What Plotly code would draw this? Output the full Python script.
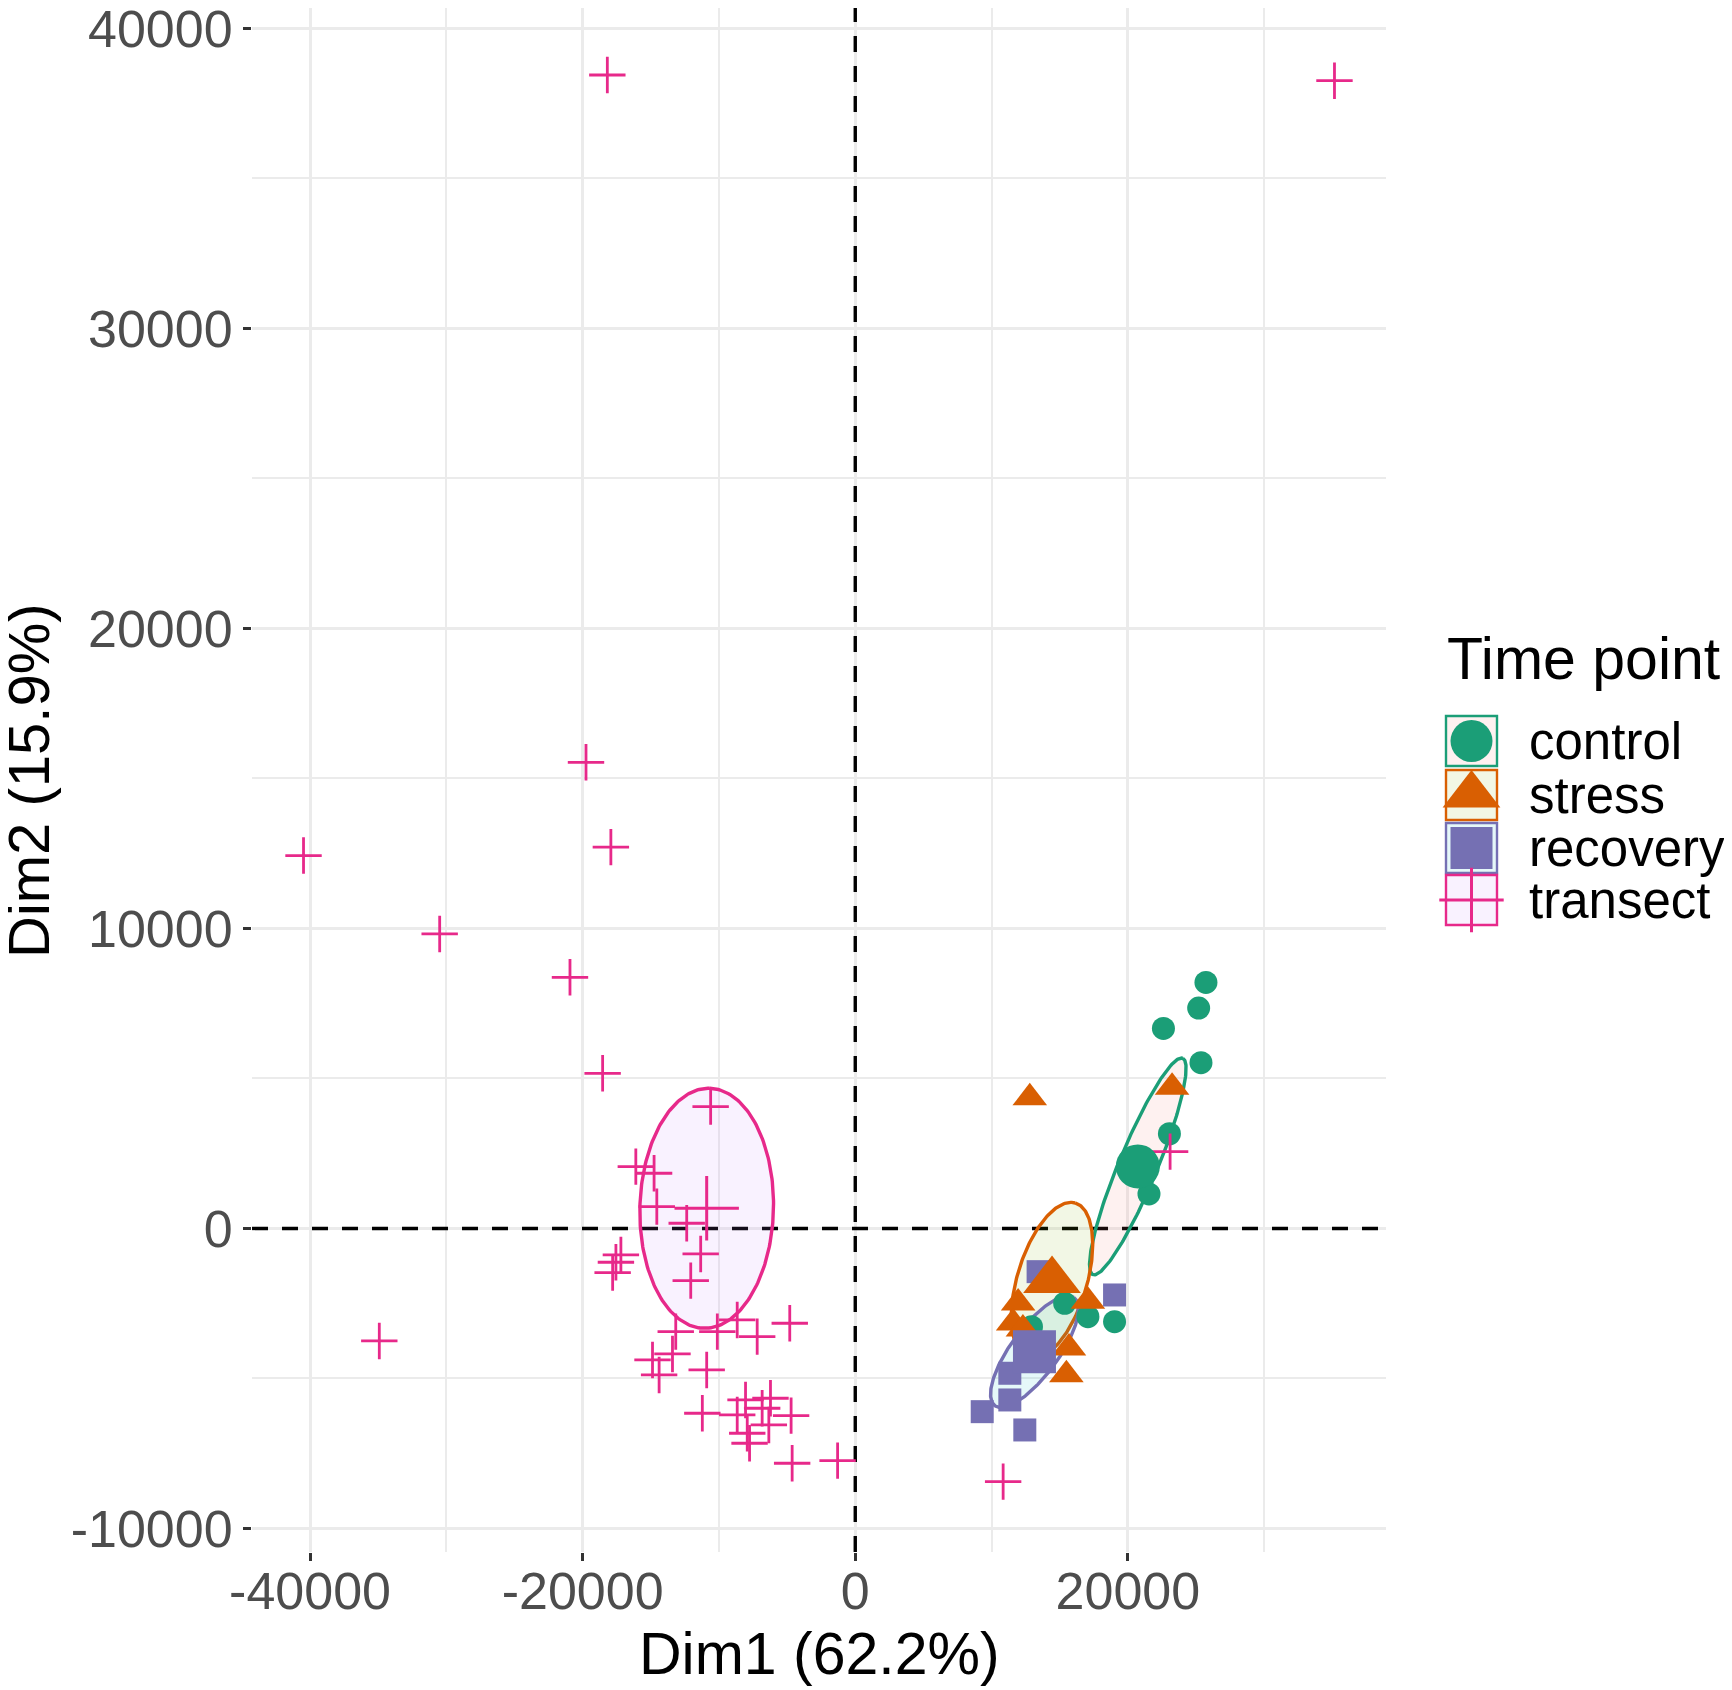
import numpy as np
import plotly.graph_objects as go

W, H = 1732, 1690
OFF = 8  # page body margin that shifts the figure in the browser

# ---------------- data ----------------
groups = ["control", "stress", "recovery", "transect"]
point_colors = ["#1B9E77", "#D95F02", "#7570B3", "#E7298A"]
fill_colors = ["rgba(248,118,109,0.1)", "rgba(124,174,0,0.1)",
               "rgba(0,191,196,0.1)", "rgba(199,124,255,0.1)"]
symbols = ["circle", "triangle-up", "square", "cross-thin"]

control_x = [25730, 25195, 22610, 25365, 23050, 21550, 15365, 17070, 19025, 12930]
control_y = [8203, 7347, 6667, 5527, 3157, 1150, -2493, -2940, -3107, -3273]

stress_x = [12805, 23245, 11950, 17070, 11585, 12300, 15680, 15490]
stress_y = [4353, 4707, -2483, -2427, -3150, -3350, -3983, -4873]

recovery_x = [13415, 19025, 11340, 11340, 9315, 12440]
recovery_y = [-1440, -2217, -4827, -5717, -6107, -6717]

transect_x = [-18190, 35160,
              -40480, -19755, -17930, -30490, -20930, -18535,
              -34920, 23100, 10850,
              -10610, -16100, -14760, -14560, -12365, -11340, -12070,
              -17195, -17560, -17800,
              -13170, -10120, -8660, -7195, -4805,
              -14875, -13410, -14390, -10900, -11220,
              -8050, -6220, -6830, -8660, -6340, -4706, -7925, -7755,
              -4630, -1295]
transect_y = [38450, 38260,
              12430, 15540, 12710, 9817, 8373, 5173,
              -3750, 2560, -8440,
              4060, 2060, 1840, 727, 173, -850, -1740,
              -883, -1127, -1473,
              -3440, -3440, -3050, -3607, -3160,
              -4383, -4183, -4883, -4717, -6160,
              -5717, -5660, -5993, -6217, -6550, -6240, -6827, -7160,
              -7827, -7740]

# group means (large markers)
centroid_x = [20730, 14437, 13148, -10900]
centroid_y = [2067, -1737, -4107, 673]

# ellipse half-axis vectors (data units)
ell_major_x = [3295, 1705, 2904, 220]
ell_major_y = [3607, 2587, 1800, 4000]
ell_minor_x = [1300, 2450, 1400, 4900]
ell_minor_y = [-250, -330, -470, -55]

xtick_vals = [-40000, -20000, 0, 20000]
xtick_text = ["-40000", "-20000", "0", "20000"]
ytick_vals = [-10000, 0, 10000, 20000, 30000, 40000]
ytick_text = ["-10000", "0", "10000", "20000", "30000", "40000"]

x_title = "Dim1 (62.2%)"
y_title = "Dim2 (15.9%)"
legend_title = "Time point"

group_x = [control_x, stress_x, recovery_x, transect_x]
group_y = [control_y, stress_y, recovery_y, transect_y]

point_sizes = [23, 30, 23, 26]
centroid_sizes = [44, 50, 43, 46]
legend_sizes = [42, 50, 42, 46]

FONT = "Liberation Sans, Arial, Helvetica, sans-serif"

# ---------------- figure ----------------
fig = go.Figure()

# panel geometry in target pixels
PL, PR, PB = 252, 1386, 1552
X_RANGE = [-44260, 38940]
Y_RANGE = [-10785, (1228.5 - OFF) / 0.03]   # top of panel at figure top


def fx(p):
    return (p - OFF) / W


def fy(p):
    return 1 - (p - OFF) / H


# dashed reference lines through the origin (above grid, below everything else)
dash_line = dict(color="black", width=3.4, dash="16px,14px")
fig.add_trace(go.Scatter(x=[0, 0], y=Y_RANGE, mode="lines", line=dash_line,
                         hoverinfo="skip", showlegend=False))
fig.add_trace(go.Scatter(x=X_RANGE, y=[0, 0], mode="lines", line=dash_line,
                         hoverinfo="skip", showlegend=False))

t = np.linspace(0, 2 * np.pi, 241)
for i, g in enumerate(groups):
    ex = centroid_x[i] + ell_major_x[i] * np.cos(t) + ell_minor_x[i] * np.sin(t)
    ey = centroid_y[i] + ell_major_y[i] * np.cos(t) + ell_minor_y[i] * np.sin(t)
    fig.add_trace(go.Scatter(x=ex, y=ey, mode="lines", fill="toself",
                             fillcolor=fill_colors[i],
                             line=dict(color=point_colors[i], width=3.4),
                             hoverinfo="skip", showlegend=False))


def marker_for(i, size, lw):
    if symbols[i] == "cross-thin":
        return dict(symbol=symbols[i], size=size,
                    line=dict(color=point_colors[i], width=lw))
    return dict(symbol=symbols[i], size=size, color=point_colors[i],
                line=dict(width=0))


for i, g in enumerate(groups):
    fig.add_trace(go.Scatter(x=group_x[i], y=group_y[i], mode="markers",
                             marker=marker_for(i, point_sizes[i], 2.8),
                             name=g, showlegend=False))

for i, g in enumerate(groups):
    fig.add_trace(go.Scatter(x=[centroid_x[i]], y=[centroid_y[i]], mode="markers",
                             marker=marker_for(i, centroid_sizes[i], 3),
                             name=g + " mean", showlegend=False))

grid = "#EBEBEB"
axis_common = dict(showline=False, zeroline=False, ticks="outside", ticklen=8,
                   tickwidth=3, tickcolor="#333333",
                   tickfont=dict(family=FONT, size=52, color="#4D4D4D"),
                   ticklabeloverflow="allow",
                   showgrid=True, gridcolor=grid, gridwidth=2.6, automargin=False)

fig.update_layout(
    width=W, height=H,
    margin=dict(l=0, r=0, t=0, b=0, pad=0),
    paper_bgcolor="white", plot_bgcolor="rgba(0,0,0,0)",
    showlegend=False,
    xaxis=dict(domain=[fx(PL), fx(PR)], range=X_RANGE,
               tickvals=xtick_vals, ticktext=xtick_text, ticklabelstandoff=-14,
               minor=dict(dtick=10000, tick0=0, showgrid=True, gridcolor=grid,
                          gridwidth=2.2, ticks=""),
               anchor="y", **axis_common),
    yaxis=dict(domain=[fy(PB), 1.0], range=Y_RANGE,
               tickvals=ytick_vals, ticktext=ytick_text, ticklabelstandoff=0,
               minor=dict(dtick=5000, tick0=0, showgrid=True, gridcolor=grid,
                          gridwidth=2.2, ticks=""),
               anchor="x", **axis_common),
    # pixel-space helper axes for the legend (target pixel coordinates)
    xaxis2=dict(domain=[fx(1400), 1.0], range=[1400, W + OFF], visible=False,
                anchor="y2", fixedrange=True),
    yaxis2=dict(domain=[fy(990), fy(580)], range=[990, 580], visible=False,
                anchor="x2", fixedrange=True),
)

# axis titles
fig.add_annotation(text=x_title, xref="paper", yref="paper",
                   x=fx(819), y=fy(1654), xanchor="center", yanchor="middle",
                   showarrow=False, font=dict(family=FONT, size=59, color="black"))
fig.add_annotation(text=y_title, xref="paper", yref="paper",
                   x=fx(28), y=fy(781), xanchor="center", yanchor="middle",
                   textangle=-90, showarrow=False,
                   font=dict(family=FONT, size=58, color="black"))

# ---------------- manual legend ----------------
key_x0, key_x1 = 1446, 1497
row_y = [741, 795, 848, 900]
key_half = 25
key_cx = (key_x0 + key_x1) / 2

fig.add_annotation(text=legend_title, xref="x2", yref="y2", x=1445, y=659,
                   xanchor="left", yanchor="middle", showarrow=False,
                   font=dict(family=FONT, size=59, color="black"))

for i, g in enumerate(groups):
    fig.add_shape(type="rect", xref="x2", yref="y2",
                  x0=key_x0, x1=key_x1, y0=row_y[i] - key_half, y1=row_y[i] + key_half,
                  line=dict(color=point_colors[i], width=2.4),
                  fillcolor=fill_colors[i], layer="below")
    fig.add_trace(go.Scatter(x=[key_cx], y=[row_y[i]], mode="markers",
                             marker=marker_for(i, legend_sizes[i], 3),
                             xaxis="x2", yaxis="y2", cliponaxis=False,
                             hoverinfo="skip", showlegend=False))
    fig.add_annotation(text=g, xref="x2", yref="y2", x=1527, y=row_y[i],
                       xanchor="left", yanchor="middle", showarrow=False,
                       font=dict(family=FONT, size=51, color="black"))

fig.write_html("out.html")
